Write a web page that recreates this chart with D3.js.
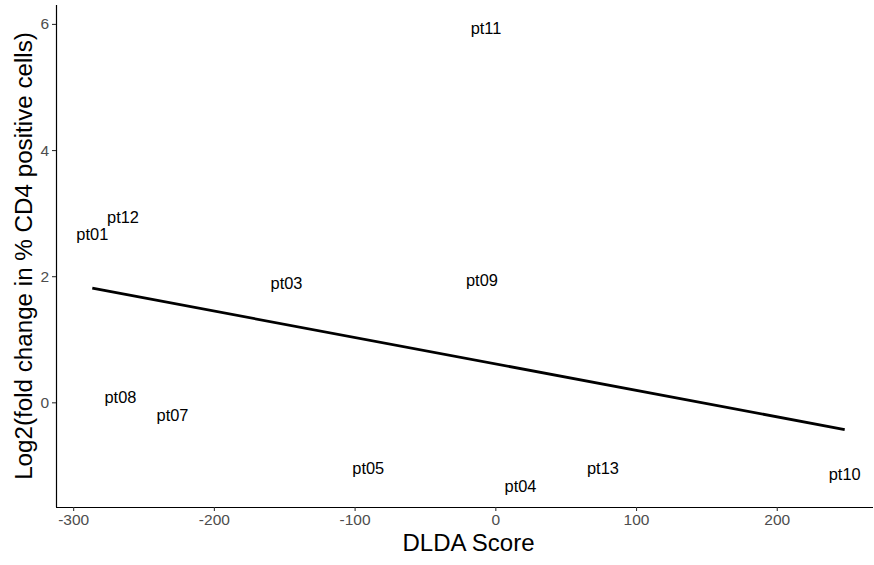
<!DOCTYPE html>
<html>
<head>
<meta charset="utf-8">
<script src="https://cdn.jsdelivr.net/npm/d3@7"></script>
<style>
  html, body { margin: 0; padding: 0; background: #fff; }
  svg { display: block; font-family: "Liberation Sans", Arial, sans-serif; }
</style>
</head>
<body>
<svg id="chart" width="874" height="565"></svg>
<script>
// Patient labels with DLDA score and log2 fold change in % CD4+ cells
const patients = ["pt01", "pt12", "pt08", "pt07", "pt03", "pt05", "pt11", "pt09", "pt04", "pt13", "pt10"];
const dldaScore = [-286.4, -264.6, -266.4, -229.4, -148.4, -90.3, -6.6, -9.5, 17.9, 76.5, 248.3];
const log2Fold  = [2.67, 2.94, 0.08, -0.19, 1.89, -1.04, 5.94, 1.94, -1.33, -1.04, -1.14];

const xTicks = [-300, -200, -100, 0, 100, 200];
const yTicks = [0, 2, 4, 6];

const svg = d3.select("#chart");
const panel = { left: 56, right: 873, top: 5, bottom: 507 };

const x = d3.scaleLinear().domain([-312.2, 268.4]).range([panel.left, panel.right]);
const y = d3.scaleLinear().domain([-1.66, 6.30]).range([panel.bottom, panel.top]);

// Least-squares fit over the data range
const pts = patients.map((p, i) => ({ label: p, x: dldaScore[i], y: log2Fold[i] }));
const mx = d3.mean(pts, d => d.x), my = d3.mean(pts, d => d.y);
const slope = d3.sum(pts, d => (d.x - mx) * (d.y - my)) / d3.sum(pts, d => (d.x - mx) ** 2);
const intercept = my - slope * mx;
const [xmin, xmax] = d3.extent(dldaScore);
const fit = [xmin, xmax].map(v => ({ x: v, y: intercept + slope * v }));

// Axes (plain hyphen for negatives)
const fmt = d => String(d);
const xAxis = svg.append("g")
  .attr("transform", `translate(0,${panel.bottom})`)
  .call(d3.axisBottom(x).tickValues(xTicks).tickFormat(fmt).tickSize(4).tickPadding(3).tickSizeOuter(0));
const yAxis = svg.append("g")
  .attr("transform", `translate(${panel.left},0)`)
  .call(d3.axisLeft(y).tickValues(yTicks).tickFormat(fmt).tickSize(4).tickPadding(3).tickSizeOuter(0));

[xAxis, yAxis].forEach(g => {
  g.select(".domain").attr("stroke", "#000").attr("stroke-width", 1.2);
  g.selectAll(".tick line").attr("stroke", "#333").attr("stroke-width", 1.1);
  g.selectAll(".tick text").attr("fill", "#4d4d4d").attr("font-size", 15.5)
    .attr("font-family", "Liberation Sans, Arial, sans-serif");
});
xAxis.select(".domain").attr("d", `M${panel.left},0.5H${panel.right}`);
yAxis.select(".domain").attr("d", `M0.5,${panel.bottom}V${panel.top}`);

// Regression line
svg.append("path")
  .datum(fit)
  .attr("fill", "none")
  .attr("stroke", "#000")
  .attr("stroke-width", 2.8)
  .attr("d", d3.line().x(d => x(d.x)).y(d => y(d.y)));

// Point labels
svg.append("g").selectAll("text")
  .data(pts)
  .join("text")
  .attr("x", d => x(d.x))
  .attr("y", d => y(d.y))
  .attr("dy", "0.38em")
  .attr("text-anchor", "middle")
  .attr("font-size", 16.4)
  .attr("fill", "#000")
  .text(d => d.label);

// Axis titles
svg.append("text")
  .attr("x", (panel.left + panel.right) / 2 + 4)
  .attr("y", 551)
  .attr("text-anchor", "middle")
  .attr("font-size", 24)
  .attr("fill", "#000")
  .text("DLDA Score");

svg.append("text")
  .attr("transform", `translate(32,${(panel.top + panel.bottom) / 2}) rotate(-90)`)
  .attr("text-anchor", "middle")
  .attr("font-size", 24.2)
  .attr("fill", "#000")
  .text("Log2(fold change in % CD4 positive cells)");
</script>
</body>
</html>
